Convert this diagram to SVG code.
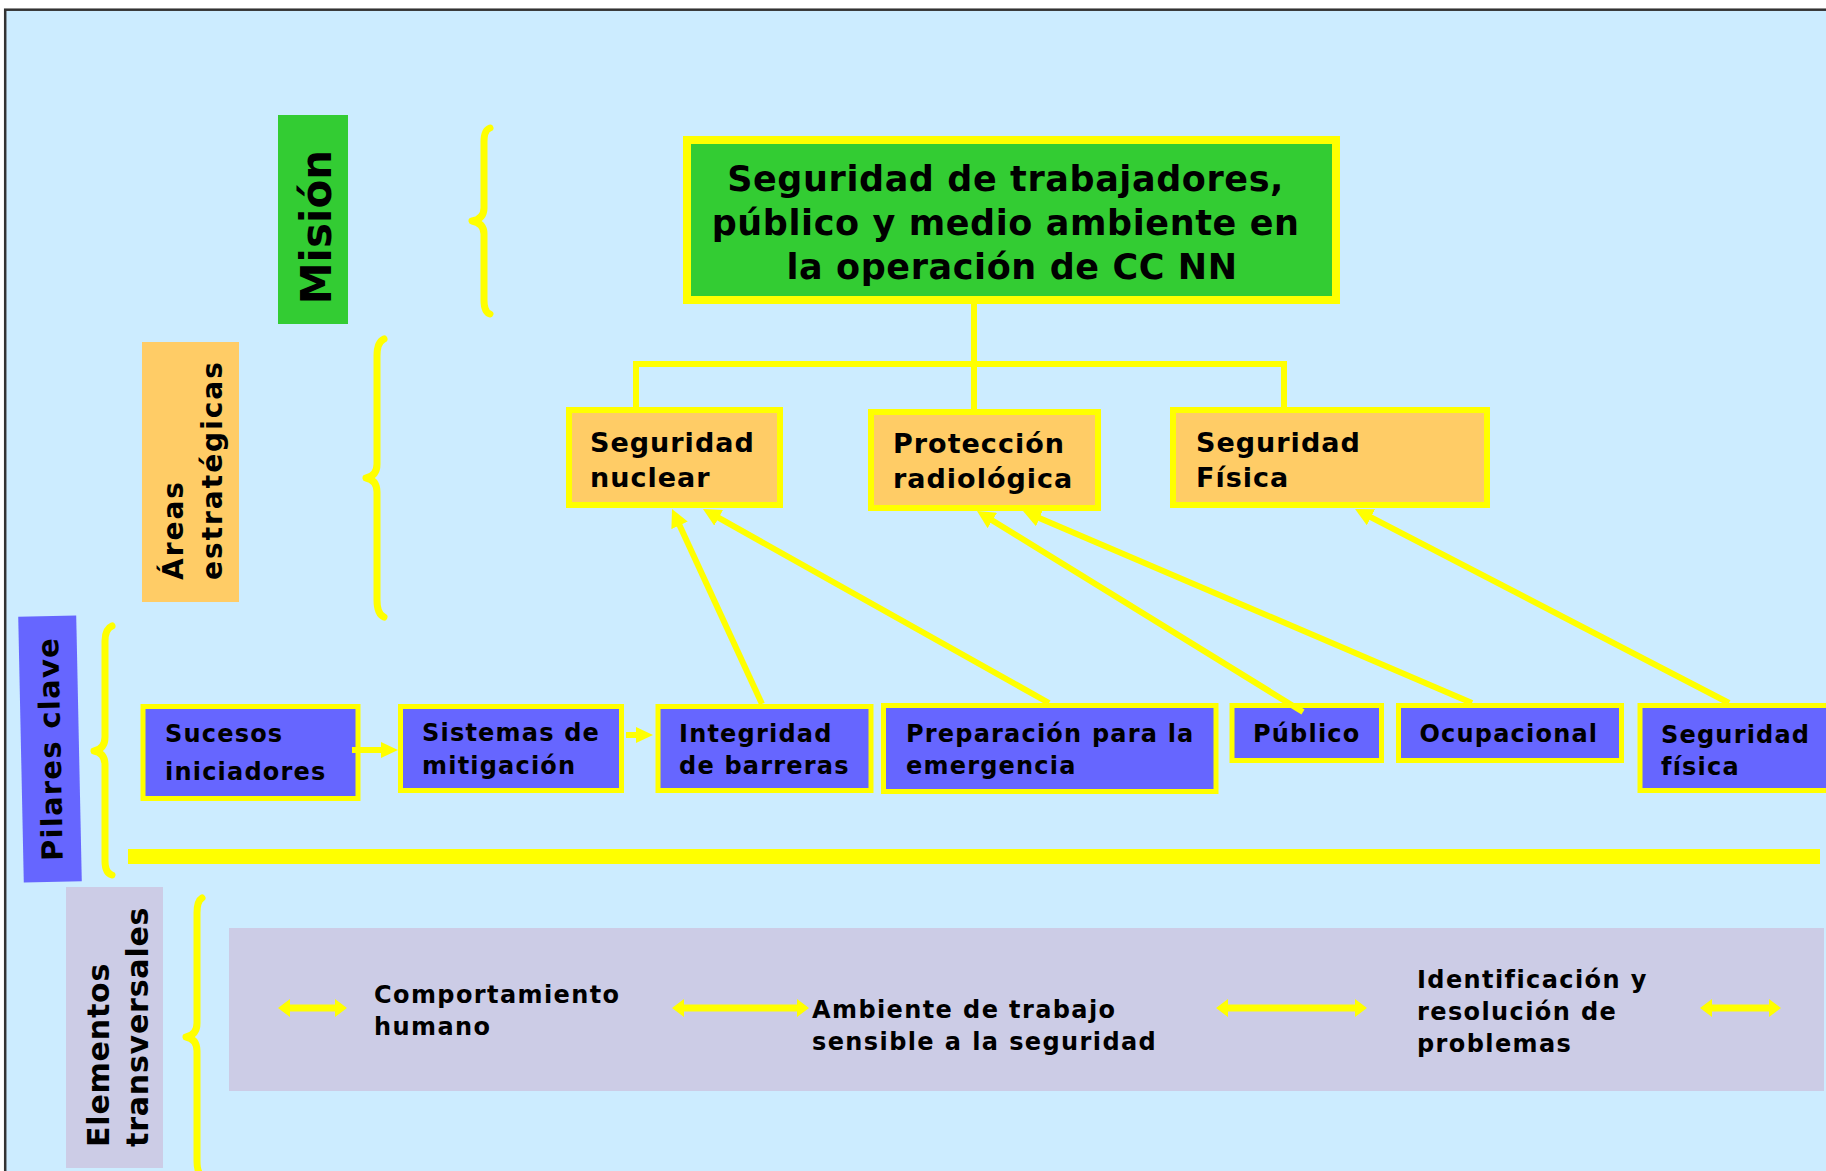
<svg xmlns="http://www.w3.org/2000/svg" width="1826" height="1171" viewBox="0 0 1826 1171">
  <style>
    .t { font-family: "DejaVu Sans", Verdana, sans-serif; font-weight: bold; fill: #000; }
    .mission { font-size: 35px; letter-spacing: 0.6px; }
    .area { font-size: 27px; letter-spacing: 1px; }
    .pillar { font-size: 24px; letter-spacing: 1.2px; }
    .cross { font-size: 24px; letter-spacing: 1.4px; }
    .box-y { stroke: #FFFF00; }
    .brace { fill: none; stroke: #FFFF00; stroke-width: 7; stroke-linecap: round; stroke-linejoin: round; }
    .link { fill: none; stroke: #FFFF00; stroke-width: 6; }
    .yfill { fill: #FFFF00; }
  </style>
  <defs>
    <marker id="ah" markerUnits="userSpaceOnUse" markerWidth="18" markerHeight="18" refX="8" refY="9" orient="auto">
      <path d="M0,0 L18,9 L0,18 Z" fill="#FFFF00"/>
    </marker>
  </defs>

  <!-- page frame -->
  <rect x="0" y="0" width="1826" height="1171" fill="#FFFFFF"/>
  <rect x="5.2" y="9.7" width="1830" height="1170" fill="#CCECFF" stroke="#333333" stroke-width="2.5"/>

  <!-- row labels -->
  <g id="label-mision">
    <rect x="278" y="115" width="70" height="209" fill="#33CC33"/>
    <text class="t" font-size="42" text-anchor="middle" transform="translate(331,227) rotate(-90)">Misión</text>
  </g>
  <g id="label-areas">
    <rect x="142" y="342" width="97" height="260" fill="#FFCC66"/>
    <text class="t" font-size="28" letter-spacing="2" transform="translate(183.3,580) rotate(-90)">Áreas</text>
    <text class="t" font-size="28" letter-spacing="2" transform="translate(221.7,580) rotate(-90)">estratégicas</text>
  </g>
  <g id="label-pilares" transform="translate(50,749) rotate(-1.2)">
    <rect x="-29" y="-133" width="58" height="266" fill="#6666FF"/>
    <text class="t" font-size="29" letter-spacing="1.3" text-anchor="middle" transform="rotate(-90)" x="0" y="10.5">Pilares clave</text>
  </g>
  <g id="label-elementos">
    <rect x="66" y="887" width="97" height="281" fill="#CCCCE6"/>
    <text class="t" font-size="30" letter-spacing="0.8" transform="translate(109,1147) rotate(-90)">Elementos</text>
    <text class="t" font-size="30" letter-spacing="0.8" transform="translate(148,1147) rotate(-90)">transversales</text>
  </g>

  <!-- braces -->
  <g id="braces">
    <path class="brace" d="M490,128 Q484,130 484,142 L484,208 Q484,219 472,221 Q484,223 484,234 L484,300 Q484,312 490,314"/>
    <path class="brace" d="M384,339 Q377,342 377,356 L377,464 Q377,476 366,478 Q377,480 377,492 L377,600 Q377,614 384,617"/>
    <path class="brace" d="M112,626 Q105,629 105,641 L105,737 Q105,749 94,751 Q105,753 105,765 L105,861 Q105,873 112,875"/>
    <path class="brace" d="M202,898 Q197,901 197,913 L197,1023 Q197,1035 186,1037 Q197,1039 197,1051 L197,1161 Q197,1173 202,1176"/>
  </g>

  <!-- separator bar and cross-cutting band -->
  <rect id="separator" x="128" y="849" width="1692" height="15" fill="#FFFF00"/>
  <g id="band">
    <rect x="229" y="928" width="1595" height="163" fill="#CCCCE6"/>
  </g>

  <!-- mission -->
  <g id="mision">
    <rect x="687" y="140" width="649" height="160" fill="#33CC33" class="box-y" stroke-width="8"/>
    <text class="t mission" text-anchor="middle">
      <tspan x="1012" y="191">Seguridad de trabajadores,</tspan>
      <tspan x="1012" y="235">público y medio ambiente en</tspan>
      <tspan x="1012" y="279">la operación de CC NN</tspan>
    </text>
  </g>

  <!-- strategic areas -->
  <g id="area-nuclear">
    <rect x="569" y="410" width="211" height="95" fill="#FFCC66" class="box-y" stroke-width="6"/>
    <text class="t area"><tspan x="590" y="452">Seguridad</tspan><tspan x="590" y="487">nuclear</tspan></text>
  </g>
  <g id="area-radiologica">
    <rect x="871" y="412" width="227" height="96" fill="#FFCC66" class="box-y" stroke-width="6"/>
    <text class="t area"><tspan x="893" y="453">Protección</tspan><tspan x="893" y="488">radiológica</tspan></text>
  </g>
  <g id="area-fisica">
    <rect x="1173" y="410" width="314" height="95" fill="#FFCC66" class="box-y" stroke-width="6"/>
    <text class="t area"><tspan x="1196" y="452">Seguridad</tspan><tspan x="1196" y="487">Física</tspan></text>
  </g>

  <!-- key pillars -->
  <g id="pilar-sucesos">
    <rect x="143" y="706.5" width="215" height="92" fill="#6666FF" class="box-y" stroke-width="5"/>
    <text class="t pillar"><tspan x="165" y="742">Sucesos</tspan><tspan x="165" y="780">iniciadores</tspan></text>
  </g>
  <g id="pilar-mitigacion">
    <rect x="400.5" y="706.5" width="221" height="84" fill="#6666FF" class="box-y" stroke-width="5"/>
    <text class="t pillar"><tspan x="422" y="741">Sistemas de</tspan><tspan x="422" y="774">mitigación</tspan></text>
  </g>
  <g id="pilar-barreras">
    <rect x="658" y="706.5" width="213" height="84" fill="#6666FF" class="box-y" stroke-width="5"/>
    <text class="t pillar"><tspan x="679" y="742">Integridad</tspan><tspan x="679" y="774">de barreras</tspan></text>
  </g>
  <g id="pilar-emergencia">
    <rect x="883.5" y="705.5" width="332.5" height="86" fill="#6666FF" class="box-y" stroke-width="5"/>
    <text class="t pillar"><tspan x="906" y="742">Preparación para la</tspan><tspan x="906" y="774">emergencia</tspan></text>
  </g>
  <g id="pilar-publico">
    <rect x="1232" y="705.5" width="149.5" height="55" fill="#6666FF" class="box-y" stroke-width="5"/>
    <text class="t pillar" x="1253" y="742">Público</text>
  </g>
  <g id="pilar-ocupacional">
    <rect x="1398.5" y="705.5" width="223" height="55" fill="#6666FF" class="box-y" stroke-width="5"/>
    <text class="t pillar" x="1419.5" y="742">Ocupacional</text>
  </g>
  <g id="pilar-fisica">
    <rect x="1640" y="705.5" width="200" height="85" fill="#6666FF" class="box-y" stroke-width="5"/>
    <text class="t pillar"><tspan x="1661" y="743">Seguridad</tspan><tspan x="1661" y="775">física</tspan></text>
  </g>

  <!-- cross-cutting elements -->
  <g id="elem-comportamiento">
    <text class="t cross"><tspan x="374" y="1003">Comportamiento</tspan><tspan x="374" y="1035">humano</tspan></text>
  </g>
  <g id="elem-ambiente">
    <text class="t cross"><tspan x="812" y="1018">Ambiente de trabajo</tspan><tspan x="812" y="1050">sensible a la seguridad</tspan></text>
  </g>
  <g id="elem-problemas">
    <text class="t cross"><tspan x="1417" y="988">Identificación y</tspan><tspan x="1417" y="1020">resolución de</tspan><tspan x="1417" y="1052">problemas</tspan></text>
  </g>

  <!-- connectors -->
  <g id="connectors">
    <path class="link" stroke-linejoin="miter" d="M636,408 V364 H1284 V408"/>
    <path class="link" d="M974,302 V410"/>

    <line class="link" x1="762" y1="704" x2="676.2" y2="518.1" marker-end="url(#ah)"/>
    <line class="link" x1="1049" y1="703" x2="711.7" y2="513.9" marker-end="url(#ah)"/>
    <line class="link" x1="1303" y1="712" x2="985.5" y2="516.3" marker-end="url(#ah)"/>
    <line class="link" x1="1472" y1="703" x2="1032.2" y2="514.9" marker-end="url(#ah)"/>
    <line class="link" x1="1729" y1="703" x2="1363.9" y2="513.6" marker-end="url(#ah)"/>

    <path class="yfill" d="M352,747 H381 V742 L398,750 L381,758 V753 H352 Z"/>
    <path class="yfill" d="M626,732 H636 V727 L653,735 L636,743 V738 H626 Z"/>

    <path class="yfill" d="M278,1008 L290,999 V1004.5 H335 V999 L347,1008 L335,1017 V1011.5 H290 V1017 Z"/>
    <path class="yfill" d="M672,1008 L684,999 V1004.5 H797 V999 L809,1008 L797,1017 V1011.5 H684 V1017 Z"/>
    <path class="yfill" d="M1216,1008 L1228,999 V1004.5 H1355 V999 L1367,1008 L1355,1017 V1011.5 H1228 V1017 Z"/>
    <path class="yfill" d="M1700,1008 L1712,999 V1004.5 H1769 V999 L1781,1008 L1769,1017 V1011.5 H1712 V1017 Z"/>
  </g>
</svg>
